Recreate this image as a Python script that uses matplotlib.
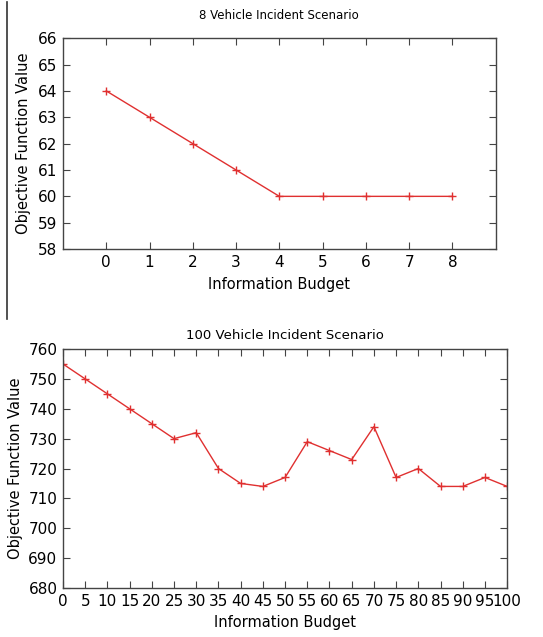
import matplotlib
matplotlib.use('Agg')
from matplotlib import pyplot as plt
from matplotlib.lines import Line2D

# small scenario
budget_8 = [0, 1, 2, 3, 4, 5, 6, 7, 8]
obj_8 = [64, 63, 62, 61, 60, 60, 60, 60, 60]

# large scenario
budget_100 = [0, 5, 10, 15, 20, 25, 30, 35, 40, 45, 50,
              55, 60, 65, 70, 75, 80, 85, 90, 95, 100]
obj_100 = [755, 750, 745, 740, 735, 730, 732, 720, 715, 714, 717,
           729, 726, 723, 734, 717, 720, 714, 714, 717, 714]

plt.rcParams['font.family'] = ['DejaVu Sans']
line_col = '#e03030'
spine_col = '#444444'

fig = plt.figure(figsize=(5.43, 6.37), dpi=100)


def style(ax):
    for s in ax.spines.values():
        s.set_color(spine_col)
        s.set_linewidth(1.0)
    ax.tick_params(direction='in', top=True, right=True, length=5,
                   color=spine_col, labelsize=11, pad=4)


# top chart
ax1 = fig.add_axes([0.116, 0.609, 0.797, 0.331])
ax1.plot(budget_8, obj_8, color=line_col, lw=1.0, marker='+', ms=6, mew=1.0)
ax1.set_xlim(-1, 9)
ax1.set_ylim(58, 66)
ax1.set_xticks(budget_8)
ax1.set_yticks(range(58, 67))
ax1.set_title('8 Vehicle Incident Scenario', fontsize=8.5, pad=14)
ax1.set_xlabel('Information Budget', fontsize=10.5, labelpad=5)
ax1.set_ylabel('Objective Function Value', fontsize=10.5, labelpad=5)
style(ax1)

# bottom chart
ax2 = fig.add_axes([0.116, 0.077, 0.818, 0.375])
ax2.plot(budget_100, obj_100, color=line_col, lw=1.0, marker='+', ms=6, mew=1.0)
ax2.set_xlim(0, 100)
ax2.set_ylim(680, 760)
ax2.set_xticks(budget_100)
ax2.set_yticks(range(680, 761, 10))
ax2.set_title('100 Vehicle Incident Scenario', fontsize=9.5, pad=7)
ax2.set_xlabel('Information Budget', fontsize=10.5, labelpad=5)
ax2.set_ylabel('Objective Function Value', fontsize=10.5, labelpad=4)
style(ax2)

# separator line at left of upper panel
fig.add_artist(Line2D([7 / 543, 7 / 543], [0.5, 0.997], color='#333333', lw=1.2))

fig.savefig('out.png', dpi=100)
